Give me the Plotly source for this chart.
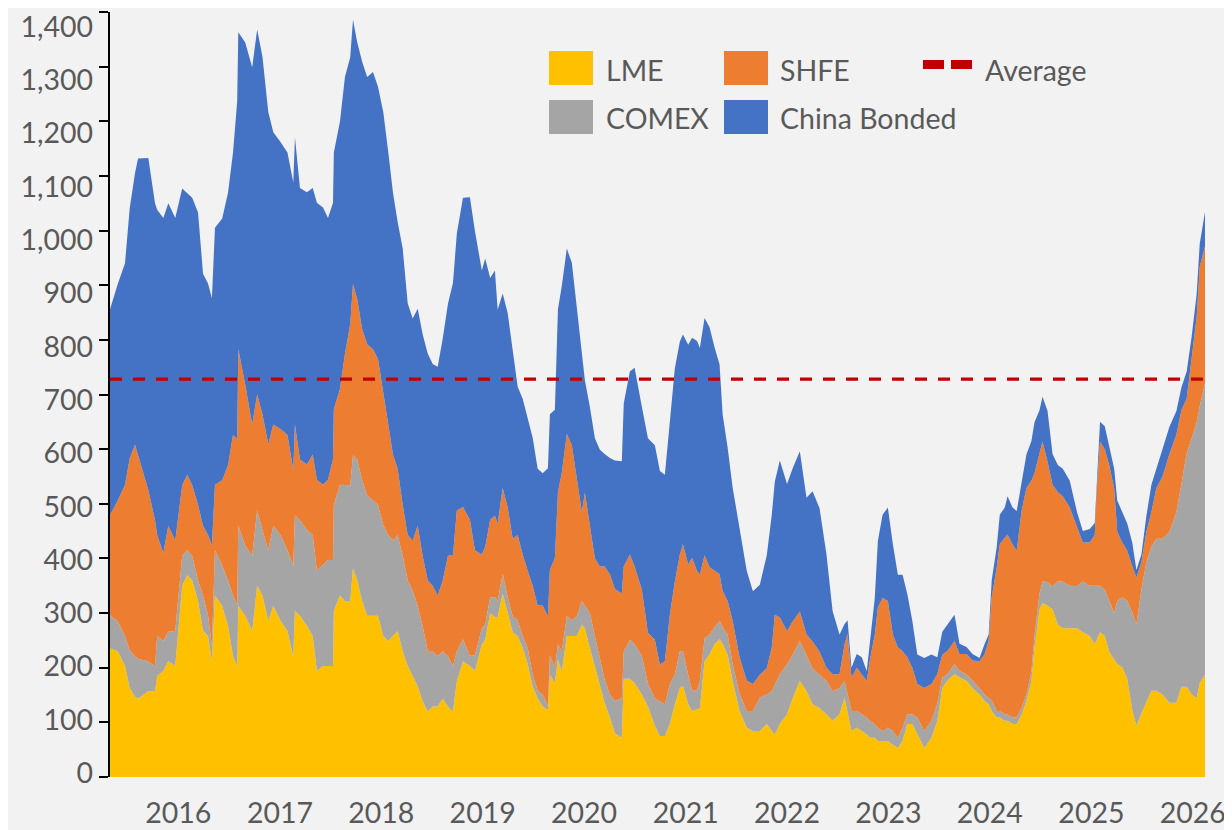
import plotly.graph_objects as go

# ---------------- data (thousand tonnes) ----------------
dates = [
    "2015-04-30", "2015-05-28", "2015-06-23", "2015-07-10", "2015-07-29", "2015-08-09", "2015-09-15", "2015-10-09", "2015-10-17", "2015-11-08", "2015-11-26", "2015-12-21",
    "2016-01-15", "2016-02-02", "2016-02-20", "2016-03-12", "2016-03-30", "2016-04-17", "2016-05-01", "2016-05-12", "2016-06-07", "2016-06-28", "2016-07-16", "2016-07-31", "2016-08-04", "2016-08-29", "2016-09-23", "2016-10-11", "2016-10-30", "2016-11-20", "2016-12-08",
    "2017-01-03", "2017-01-28", "2017-02-18", "2017-02-24", "2017-03-14", "2017-04-08", "2017-04-29", "2017-05-14", "2017-06-05", "2017-06-23", "2017-07-11", "2017-07-14", "2017-08-05", "2017-08-23", "2017-09-11", "2017-09-21", "2017-10-06", "2017-10-24", "2017-11-11", "2017-12-02", "2017-12-20",
    "2018-01-08", "2018-01-26", "2018-02-12", "2018-03-01", "2018-03-19", "2018-04-06", "2018-04-24", "2018-05-12", "2018-05-30", "2018-06-17", "2018-07-05", "2018-07-23", "2018-08-10", "2018-08-29", "2018-09-16", "2018-09-30", "2018-10-22", "2018-11-16", "2018-12-04", "2018-12-29",
    "2019-01-10", "2019-01-28", "2019-02-14", "2019-02-24", "2019-03-14", "2019-04-01", "2019-04-19", "2019-05-07", "2019-05-25", "2019-06-12", "2019-06-30", "2019-07-18", "2019-08-05", "2019-08-24", "2019-08-31", "2019-09-18", "2019-09-29", "2019-10-13", "2019-10-31", "2019-11-18", "2019-12-06", "2019-12-24",
    "2020-01-04", "2020-01-22", "2020-02-09", "2020-02-27", "2020-03-15", "2020-04-03", "2020-04-21", "2020-05-16", "2020-05-23", "2020-06-14", "2020-07-01", "2020-07-27", "2020-08-18", "2020-09-12", "2020-09-30", "2020-10-18", "2020-11-05", "2020-11-23", "2020-12-11", "2020-12-22",
    "2021-01-10", "2021-01-24", "2021-02-11", "2021-02-21", "2021-03-10", "2021-03-28", "2021-04-15", "2021-05-03", "2021-05-14", "2021-06-01", "2021-06-19", "2021-07-14", "2021-08-09", "2021-08-31", "2021-09-25", "2021-10-20", "2021-11-07", "2021-11-18", "2021-12-06",
    "2022-01-01", "2022-01-22", "2022-02-16", "2022-03-12", "2022-04-03", "2022-04-28", "2022-05-23", "2022-06-14", "2022-07-09", "2022-07-27", "2022-08-07", "2022-08-21", "2022-09-09", "2022-09-27", "2022-10-15", "2022-10-26", "2022-11-13", "2022-11-24", "2022-12-11", "2022-12-30",
    "2023-01-17", "2023-02-04", "2023-02-21", "2023-03-10", "2023-03-28", "2023-04-15", "2023-05-10", "2023-06-05", "2023-06-26", "2023-07-14", "2023-08-01", "2023-08-27", "2023-09-14", "2023-10-09", "2023-10-31", "2023-11-25", "2023-12-13", "2023-12-28",
    "2024-01-08", "2024-01-26", "2024-02-06", "2024-02-24", "2024-03-05", "2024-03-23", "2024-04-07", "2024-04-25", "2024-05-12", "2024-05-30", "2024-06-10", "2024-06-28", "2024-07-09", "2024-07-27", "2024-08-14", "2024-09-02", "2024-09-20", "2024-10-15", "2024-11-10", "2024-12-01", "2024-12-26",
    "2025-01-13", "2025-01-20", "2025-02-01", "2025-02-18", "2025-03-06", "2025-03-24", "2025-04-04", "2025-04-22", "2025-05-10", "2025-05-28", "2025-06-12", "2025-06-30", "2025-07-18", "2025-08-05", "2025-08-23", "2025-09-14", "2025-10-09", "2025-11-03", "2025-11-21", "2025-12-10", "2025-12-28",
    "2026-01-15", "2026-01-26", "2026-02-14",
]

lme = [
    235, 230, 203, 163, 147, 143, 157, 157, 185, 194, 212, 203,
    350, 369, 360, 322, 267, 258, 212, 332, 313, 277, 221, 203, 313, 295, 267, 350, 332, 286, 313,
    286, 267, 221, 304, 295, 277, 258, 194, 203, 203, 203, 304, 332, 322, 322, 382, 360, 322, 295, 295, 295,
    258, 249, 258, 267, 230, 203, 185, 166, 138, 120, 129, 129, 143, 129, 120, 175, 212, 203, 194, 243,
    251, 300, 293, 293, 336, 300, 265, 258, 236, 207, 165, 144, 129, 123, 187, 172, 215, 194, 258, 258, 258, 279,
    272, 236, 201, 165, 136, 109, 80, 72, 180, 180, 172, 151, 129, 94, 75, 75, 97, 133, 163, 167,
    133, 121, 124, 126, 212, 224, 243, 252, 243, 224, 176, 121, 90, 84, 84, 97, 84, 78, 97,
    115, 145, 176, 157, 133, 126, 115, 103, 115, 145, 115, 84, 90, 84, 78, 72, 72, 66, 66, 66,
    59, 53, 66, 97, 97, 78, 53, 72, 103, 163, 176, 188, 182, 176, 163, 151, 139, 133,
    121, 109, 109, 103, 103, 97, 97, 115, 139, 176, 236, 307, 318, 314, 307, 279, 272, 272, 272, 265, 258,
    243, 252, 265, 258, 229, 215, 207, 201, 180, 123, 94, 116, 136, 158, 158, 151, 136, 136, 165, 165, 151,
    144, 172, 187,
]

comex = [
    61, 55, 55, 69, 74, 73, 55, 45, 73, 55, 54, 64,
    55, 46, 45, 38, 65, 38, 28, 83, 74, 83, 111, 111, 147, 128, 138, 138, 120, 129, 147,
    157, 148, 166, 175, 175, 175, 185, 184, 185, 194, 194, 194, 203, 212, 212, 207, 221, 221, 220, 211, 203,
    203, 194, 175, 176, 175, 157, 156, 147, 138, 111, 101, 92, 87, 92, 83, 55, 40, 19, 29, 29,
    28, 29, 36, 29, 36, 29, 29, 29, 22, 29, 22, 14, 22, 7, 36, 29, 28, 36, 36, 29, 36, 43,
    42, 64, 57, 50, 43, 42, 59, 72, 49, 71, 71, 71, 42, 50, 64, 58, 73, 54, 67, 63,
    54, 37, 35, 49, 42, 37, 31, 34, 31, 37, 31, 31, 31, 37, 61, 54, 73, 92, 91,
    92, 79, 73, 67, 66, 61, 61, 54, 48, 31, 37, 37, 31, 31, 31, 31, 25, 24, 18, 24,
    25, 19, 24, 18, 18, 31, 31, 31, 31, 19, 12, 19, 12, 12, 13, 12, 12, 12,
    19, 12, 12, 12, 12, 12, 12, 12, 12, 18, 22, 29, 40, 43, 42, 79, 86, 78, 77, 93, 92,
    107, 98, 85, 85, 93, 85, 115, 128, 142, 178, 185, 227, 257, 264, 278, 285, 313, 349, 371, 427, 469,
    505, 506, 534,
]

shfe = [
    183, 221, 277, 351, 387, 373, 313, 268, 185, 161, 194, 166,
    129, 138, 129, 138, 128, 147, 184, 120, 156, 211, 294, 304, 323, 295, 240, 212, 212, 194, 185,
    194, 211, 175, 166, 111, 120, 147, 166, 147, 147, 185, 175, 175, 240, 295, 313, 294, 277, 277, 277, 267,
    240, 203, 157, 120, 93, 83, 92, 147, 128, 129, 120, 111, 129, 184, 203, 258, 242, 249, 192, 135,
    142, 142, 149, 142, 157, 164, 142, 156, 149, 142, 163, 156, 163, 164, 156, 200, 278, 327, 334, 320, 256, 163,
    206, 164, 142, 170, 206, 220, 205, 192, 156, 156, 142, 121, 93, 107, 67, 79, 127, 171, 177, 196,
    202, 243, 218, 195, 152, 123, 103, 85, 66, 61, 79, 67, 55, 49, 42, 48, 80, 127, 104,
    60, 61, 54, 37, 49, 42, 24, 31, 25, 67, 110, 61, 79, 73, 67, 110, 164, 220, 244, 232,
    177, 165, 140, 104, 85, 61, 79, 67, 54, 42, 42, 42, 31, 37, 37, 49, 73, 104,
    189, 263, 305, 323, 329, 317, 305, 361, 378, 348, 298, 256, 256, 220, 186, 163, 156, 143, 108, 71, 79,
    93, 171, 264, 257, 249, 228, 127, 100, 92, 85, 86, 50, 56, 63, 93, 114, 142, 142, 135, 100, 150,
    193, 256, 250,
]

china_bonded = [
    377, 396, 405, 458, 497, 543, 608, 580, 595, 613, 590, 590,
    543, 516, 526, 535, 461, 460, 452, 470, 479, 498, 517, 618, 580, 626, 654, 668, 654, 608, 535,
    525, 517, 526, 526, 497, 498, 488, 507, 507, 479, 469, 470, 489, 507, 488, 484, 470, 489, 489, 507, 498,
    516, 498, 479, 452, 469, 424, 406, 397, 406, 415, 406, 419, 443, 461, 498, 507, 566, 590, 584, 520,
    528, 442, 449, 391, 356, 356, 342, 271, 285, 278, 271, 250, 242, 271, 285, 271, 335, 342, 339, 334, 306, 286,
    206, 213, 220, 214, 206, 213, 235, 242, 299, 335, 364, 335, 356, 356, 354, 341, 348, 390, 390, 384,
    402, 403, 421, 415, 434, 439, 409, 384, 324, 281, 244, 232, 201, 170, 165, 207, 243, 244, 287,
    269, 281, 293, 250, 275, 263, 207, 116, 73, 37, 25, 18, 25, 31, 18, 37, 67, 122, 152, 171,
    165, 133, 140, 116, 86, 54, 55, 54, 31, 42, 49, 48, 19, 13, 12, 6, 19, 12,
    31, 37, 54, 55, 70, 67, 73, 54, 61, 73, 93, 79, 82, 93, 56, 50, 50, 49, 28, 21, 25,
    22, 22, 36, 42, 36, 36, 57, 56, 50, 43, 14, 14, 29, 50, 36, 50, 50, 43, 42, 50, 36,
    42, 42, 63,
]

average_value = 728

year_labels = [str(y) for y in range(2016, 2027)]
year_ticks = [f"{y}-01-01" for y in year_labels]
y_ticks = list(range(0, 1401, 100))

series_names = ["LME", "COMEX", "SHFE", "China Bonded"]
series_values = [lme, comex, shfe, china_bonded]

# ---------------- styling ----------------
colors = {"LME": "#FFC000", "COMEX": "#A5A5A5", "SHFE": "#ED7D31", "China Bonded": "#4472C4"}
avg_color = "#C00000"
bg = "#F2F2F2"
text_color = "#595959"
font_family = "Lato, 'Open Sans', sans-serif"
font_size = 28.5

# the page body has an 8px margin, so the figure is drawn 8px in from the window edge
OFF = 8
W, H = 1232 - OFF, 830 - OFF
PLOT_L, PLOT_R, PLOT_T, PLOT_B = 110, 1205, 12, 777   # plot box in window pixels
ML, MR, MT, MB = PLOT_L - OFF, W - (PLOT_R - OFF), PLOT_T - OFF, H - (PLOT_B - OFF)


def px_x(px):
    return (px - PLOT_L) / (PLOT_R - PLOT_L)


def px_y(py):
    return (PLOT_B - py) / (PLOT_B - PLOT_T)


fig = go.Figure()
for name, vals in zip(series_names, series_values):
    fig.add_trace(go.Scatter(
        x=dates, y=vals, name=name, stackgroup="stocks", mode="lines",
        line=dict(width=0, color=colors[name]), fillcolor=colors[name],
        showlegend=False,
    ))

fig.add_trace(go.Scatter(
    x=[dates[0], dates[-1]], y=[average_value, average_value], name="Average",
    mode="lines", line=dict(color=avg_color, width=3.3, dash="12px,11px"),
    showlegend=False,
))

# empty trace that carries the label-only axis (labels sit slightly inside, like the original)
fig.add_trace(go.Scatter(x=[dates[0]], y=[None], yaxis="y2", showlegend=False,
                         hoverinfo="skip", mode="lines"))

# ---------------- manual legend (swatches + real text) ----------------
shapes = []
annotations = []
legend_items = [
    # name, swatch left, swatch top, text x, text center y  (window pixels)
    ("LME", 549, 51, 604, 70),
    ("COMEX", 549, 100, 604, 118),
    ("SHFE", 724, 51, 778, 70),
    ("China Bonded", 724, 100, 778, 118),
]
for name, sx, sy, tx, ty in legend_items:
    shapes.append(dict(type="rect", xref="paper", yref="paper",
                       x0=px_x(sx), x1=px_x(sx + 44), y0=px_y(sy + 34), y1=px_y(sy),
                       fillcolor=colors[name], line=dict(width=0), layer="above"))
    annotations.append(dict(text=name, x=px_x(tx), y=px_y(ty), xref="paper", yref="paper",
                            xanchor="left", yanchor="middle", showarrow=False,
                            font=dict(family=font_family, size=font_size, color=text_color)))
for dx0 in (923, 951):
    shapes.append(dict(type="rect", xref="paper", yref="paper",
                       x0=px_x(dx0), x1=px_x(dx0 + 21), y0=px_y(69), y1=px_y(60),
                       fillcolor=avg_color, line=dict(width=0), layer="above"))
annotations.append(dict(text="Average", x=px_x(983), y=px_y(70), xref="paper", yref="paper",
                        xanchor="left", yanchor="middle", showarrow=False,
                        font=dict(family=font_family, size=font_size, color=text_color)))

tick_font = dict(family=font_family, size=font_size, color=text_color)

fig.update_layout(
    width=W, height=H, autosize=False,
    margin=dict(l=ML, r=MR, t=MT, b=MB, pad=0, autoexpand=False),
    paper_bgcolor=bg, plot_bgcolor=bg,
    font=dict(family=font_family, size=font_size, color=text_color),
    showlegend=False,
    shapes=shapes, annotations=annotations,
    xaxis=dict(
        type="date", range=[dates[0], dates[-1]],
        tickvals=year_ticks, ticktext=year_labels,
        showline=False, ticks="", showgrid=False, zeroline=False,
        tickfont=tick_font,
        ticklabelstandoff=16, ticklabeloverflow="allow", automargin=False,
    ),
    yaxis=dict(
        range=[0, 1400], tickvals=y_ticks, showticklabels=False,
        showline=True, linecolor="black", linewidth=2,
        ticks="outside", ticklen=9, tickwidth=2, tickcolor="black",
        showgrid=False, zeroline=False, automargin=False,
    ),
    yaxis2=dict(
        overlaying="y", side="left", range=[-7.5, 1428],
        tickvals=y_ticks, tickformat=",",
        showline=False, ticks="", showgrid=False, zeroline=False,
        tickfont=tick_font,
        ticklabelstandoff=16, ticklabeloverflow="allow", automargin=False,
    ),
)

fig.write_html("out.html")
